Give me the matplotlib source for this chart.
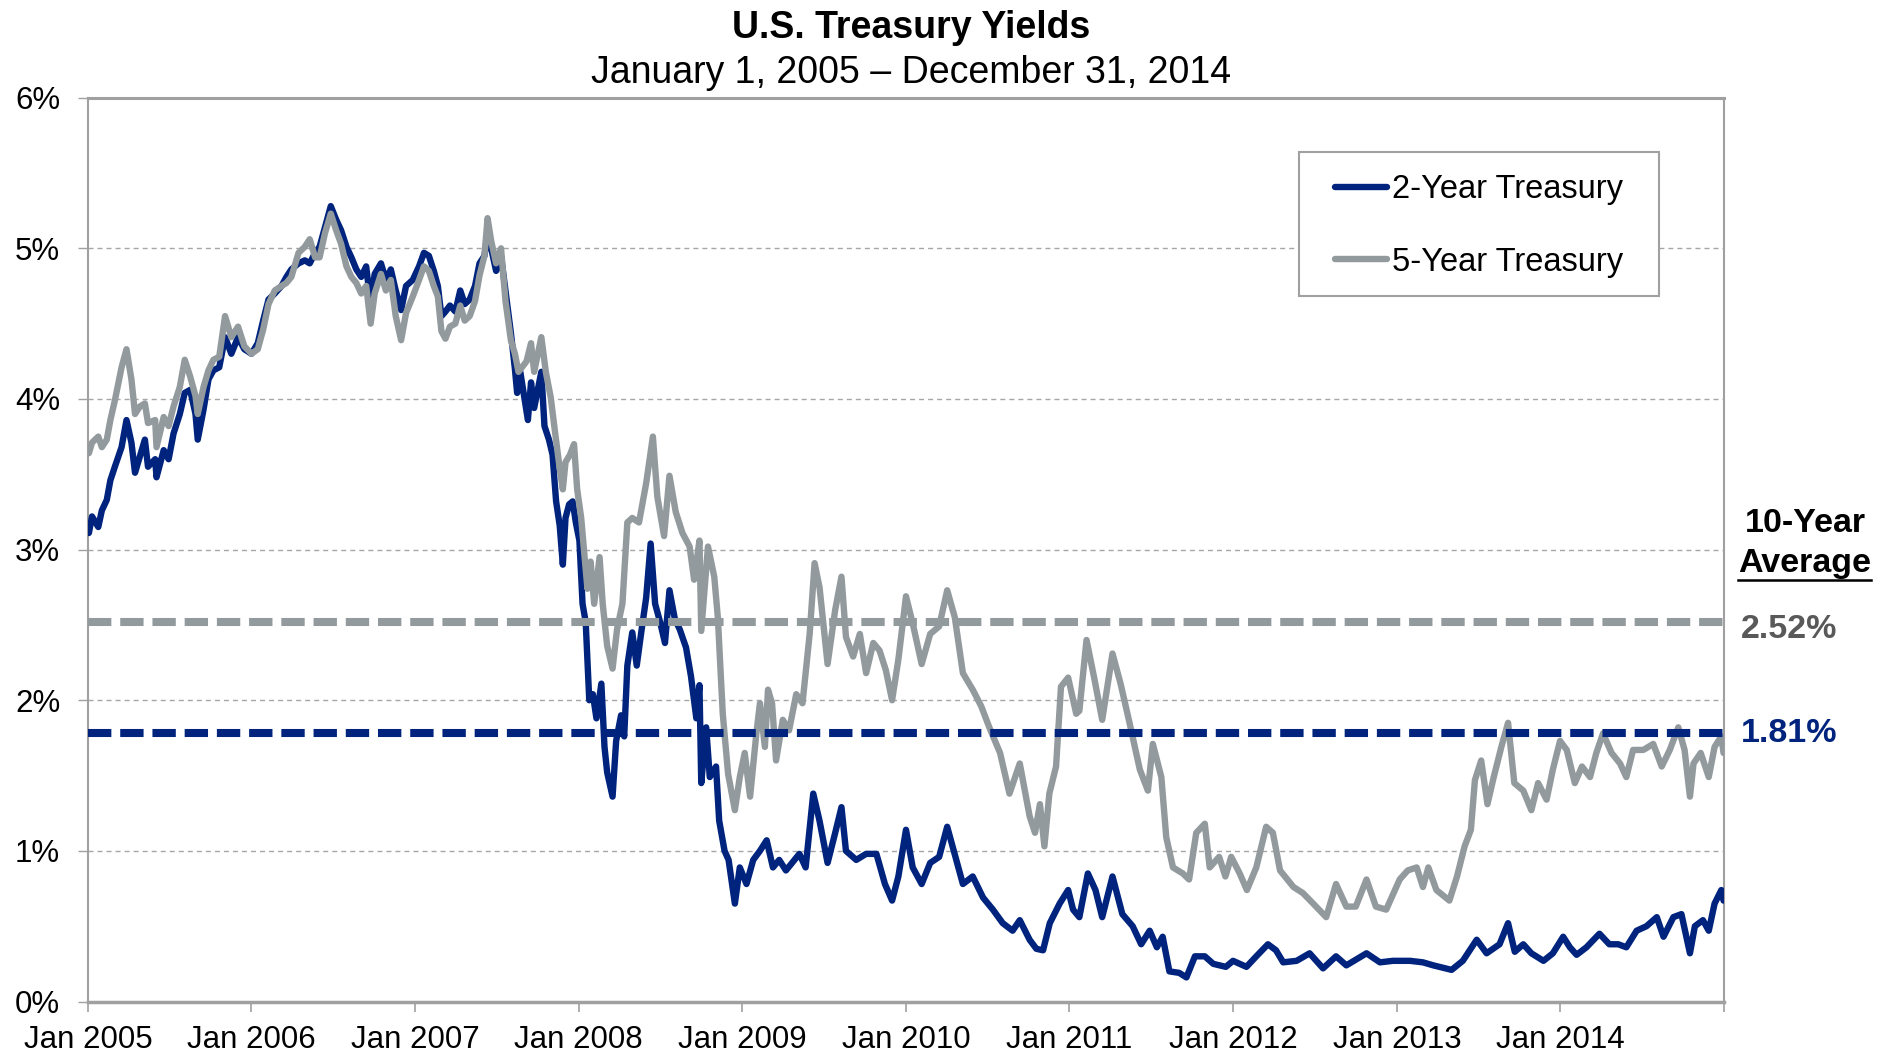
import numpy as np
import pandas as pd
import matplotlib
matplotlib.use('Agg')
import matplotlib.pyplot as plt
from matplotlib.patches import Rectangle
from matplotlib.lines import Line2D

plt.rcParams['font.family'] = ['Liberation Sans', 'DejaVu Sans']

# 2-year treasury yield (%)
two_year = [
    ("2005-01-03", 3.11), ("2005-01-10", 3.22), ("2005-01-24", 3.15), ("2005-02-01", 3.26),
    ("2005-02-12", 3.33), ("2005-02-20", 3.46), ("2005-03-02", 3.55), ("2005-03-17", 3.68),
    ("2005-03-28", 3.86), ("2005-04-08", 3.71), ("2005-04-16", 3.51), ("2005-04-27", 3.62),
    ("2005-05-08", 3.73), ("2005-05-15", 3.55), ("2005-05-31", 3.60), ("2005-06-03", 3.48),
    ("2005-06-19", 3.66), ("2005-06-30", 3.60), ("2005-07-11", 3.77), ("2005-07-25", 3.90),
    ("2005-08-05", 4.04), ("2005-08-17", 4.06), ("2005-08-29", 3.90), ("2005-09-03", 3.73),
    ("2005-09-16", 3.93), ("2005-09-27", 4.13), ("2005-10-08", 4.19), ("2005-10-21", 4.21),
    ("2005-11-03", 4.41), ("2005-11-17", 4.30), ("2005-12-02", 4.41), ("2005-12-16", 4.33),
    ("2006-01-01", 4.30), ("2006-01-15", 4.37), ("2006-01-27", 4.52), ("2006-02-08", 4.66),
    ("2006-02-22", 4.70), ("2006-03-09", 4.75), ("2006-03-20", 4.81), ("2006-03-31", 4.86),
    ("2006-04-16", 4.90), ("2006-04-30", 4.92), ("2006-05-11", 4.90), ("2006-05-23", 4.97),
    ("2006-06-02", 5.01), ("2006-06-14", 5.14), ("2006-06-27", 5.28), ("2006-07-09", 5.19),
    ("2006-07-20", 5.12), ("2006-08-01", 5.01), ("2006-08-12", 4.94), ("2006-08-23", 4.86),
    ("2006-09-03", 4.81), ("2006-09-14", 4.88), ("2006-09-24", 4.63), ("2006-10-03", 4.83),
    ("2006-10-17", 4.90), ("2006-10-28", 4.79), ("2006-11-08", 4.86), ("2006-11-19", 4.72),
    ("2006-12-01", 4.59), ("2006-12-12", 4.75), ("2006-12-27", 4.79), ("2007-01-10", 4.88),
    ("2007-01-21", 4.97), ("2007-02-01", 4.95), ("2007-02-12", 4.85), ("2007-02-21", 4.75),
    ("2007-03-01", 4.55), ("2007-03-10", 4.58), ("2007-03-20", 4.62), ("2007-04-01", 4.58),
    ("2007-04-12", 4.72), ("2007-04-22", 4.63), ("2007-05-03", 4.66), ("2007-05-15", 4.75),
    ("2007-05-25", 4.90), ("2007-06-05", 4.95), ("2007-06-12", 5.10), ("2007-06-20", 5.00),
    ("2007-07-01", 4.85), ("2007-07-12", 4.95), ("2007-07-22", 4.72), ("2007-08-03", 4.44),
    ("2007-08-12", 4.20), ("2007-08-17", 4.04), ("2007-08-24", 4.18), ("2007-09-10", 3.86),
    ("2007-09-17", 4.11), ("2007-09-24", 3.94), ("2007-10-10", 4.18), ("2007-10-17", 3.82),
    ("2007-10-27", 3.73), ("2007-11-04", 3.63), ("2007-11-12", 3.32), ("2007-11-20", 3.16),
    ("2007-11-27", 2.90), ("2007-12-03", 3.21), ("2007-12-11", 3.30), ("2007-12-19", 3.32),
    ("2007-12-26", 3.18), ("2008-01-03", 3.06), ("2008-01-10", 2.64), ("2008-01-17", 2.52),
    ("2008-01-25", 2.00), ("2008-02-02", 2.04), ("2008-02-10", 1.88), ("2008-02-21", 2.11),
    ("2008-02-28", 1.69), ("2008-03-05", 1.52), ("2008-03-17", 1.36), ("2008-03-25", 1.73),
    ("2008-04-05", 1.90), ("2008-04-12", 1.76), ("2008-04-19", 2.23), ("2008-04-30", 2.45),
    ("2008-05-10", 2.23), ("2008-05-20", 2.45), ("2008-05-31", 2.68), ("2008-06-10", 3.04),
    ("2008-06-20", 2.64), ("2008-07-01", 2.52), ("2008-07-12", 2.38), ("2008-07-22", 2.73),
    ("2008-08-03", 2.54), ("2008-08-14", 2.47), ("2008-08-28", 2.35), ("2008-09-08", 2.16),
    ("2008-09-20", 1.88), ("2008-09-27", 2.10), ("2008-10-01", 1.45), ("2008-10-12", 1.82),
    ("2008-10-20", 1.49), ("2008-11-03", 1.56), ("2008-11-10", 1.20), ("2008-11-22", 1.00),
    ("2008-12-01", 0.94), ("2008-12-15", 0.65), ("2008-12-26", 0.89), ("2009-01-10", 0.78),
    ("2009-01-25", 0.94), ("2009-02-09", 1.00), ("2009-02-24", 1.07), ("2009-03-10", 0.89),
    ("2009-03-24", 0.94), ("2009-04-08", 0.87), ("2009-05-08", 0.98), ("2009-05-22", 0.89),
    ("2009-06-08", 1.38), ("2009-06-22", 1.20), ("2009-07-10", 0.92), ("2009-07-27", 1.12),
    ("2009-08-10", 1.29), ("2009-08-20", 1.00), ("2009-09-12", 0.94), ("2009-10-04", 0.98),
    ("2009-10-27", 0.98), ("2009-11-15", 0.78), ("2009-12-01", 0.67), ("2009-12-15", 0.83),
    ("2010-01-01", 1.14), ("2010-01-16", 0.89), ("2010-02-05", 0.78), ("2010-02-24", 0.92),
    ("2010-03-16", 0.96), ("2010-04-03", 1.16), ("2010-04-15", 1.03), ("2010-05-08", 0.78),
    ("2010-05-30", 0.83), ("2010-06-22", 0.69), ("2010-07-14", 0.61), ("2010-08-05", 0.52),
    ("2010-08-27", 0.47), ("2010-09-12", 0.54), ("2010-10-04", 0.41), ("2010-10-19", 0.35),
    ("2010-11-03", 0.34), ("2010-11-18", 0.52), ("2010-12-10", 0.65), ("2010-12-29", 0.74),
    ("2011-01-09", 0.61), ("2011-01-23", 0.56), ("2011-02-11", 0.85), ("2011-02-28", 0.74),
    ("2011-03-15", 0.56), ("2011-04-07", 0.83), ("2011-04-29", 0.58), ("2011-05-22", 0.50),
    ("2011-06-10", 0.38), ("2011-06-29", 0.47), ("2011-07-15", 0.36), ("2011-07-28", 0.43),
    ("2011-08-12", 0.20), ("2011-09-03", 0.19), ("2011-09-19", 0.16), ("2011-10-08", 0.30),
    ("2011-10-30", 0.30), ("2011-11-18", 0.25), ("2011-12-16", 0.23), ("2012-01-01", 0.27),
    ("2012-01-31", 0.23), ("2012-02-22", 0.30), ("2012-03-19", 0.38), ("2012-04-06", 0.34),
    ("2012-04-22", 0.26), ("2012-05-22", 0.27), ("2012-06-20", 0.32), ("2012-07-20", 0.22),
    ("2012-08-18", 0.30), ("2012-09-10", 0.24), ("2012-10-25", 0.32), ("2012-11-24", 0.26),
    ("2012-12-23", 0.27), ("2013-01-30", 0.27), ("2013-02-28", 0.26), ("2013-03-23", 0.24),
    ("2013-05-03", 0.21), ("2013-05-28", 0.27), ("2013-06-28", 0.41), ("2013-07-20", 0.32),
    ("2013-08-18", 0.38), ("2013-09-06", 0.52), ("2013-09-21", 0.33), ("2013-10-10", 0.38),
    ("2013-10-28", 0.32), ("2013-11-24", 0.27), ("2013-12-15", 0.32), ("2014-01-07", 0.43),
    ("2014-01-22", 0.36), ("2014-02-06", 0.31), ("2014-02-28", 0.36), ("2014-03-29", 0.45),
    ("2014-04-20", 0.38), ("2014-05-10", 0.38), ("2014-05-28", 0.36), ("2014-06-20", 0.47),
    ("2014-07-12", 0.50), ("2014-08-04", 0.56), ("2014-08-19", 0.43), ("2014-09-10", 0.56),
    ("2014-09-28", 0.58), ("2014-10-17", 0.32), ("2014-10-28", 0.50), ("2014-11-15", 0.54),
    ("2014-11-28", 0.47), ("2014-12-11", 0.65), ("2014-12-26", 0.74), ("2014-12-31", 0.67),
]

# 5-year treasury yield (%)
five_year = [
    ("2005-01-03", 3.64), ("2005-01-10", 3.71), ("2005-01-24", 3.75), ("2005-02-01", 3.68),
    ("2005-02-12", 3.73), ("2005-02-20", 3.86), ("2005-03-02", 3.99), ("2005-03-17", 4.21),
    ("2005-03-28", 4.33), ("2005-04-08", 4.13), ("2005-04-16", 3.90), ("2005-04-27", 3.95),
    ("2005-05-08", 3.97), ("2005-05-15", 3.84), ("2005-05-31", 3.86), ("2005-06-03", 3.68),
    ("2005-06-19", 3.88), ("2005-06-30", 3.82), ("2005-07-11", 3.95), ("2005-07-25", 4.08),
    ("2005-08-05", 4.26), ("2005-08-17", 4.15), ("2005-08-29", 4.02), ("2005-09-03", 3.90),
    ("2005-09-16", 4.08), ("2005-09-27", 4.19), ("2005-10-08", 4.26), ("2005-10-21", 4.28),
    ("2005-11-03", 4.55), ("2005-11-17", 4.41), ("2005-12-02", 4.48), ("2005-12-16", 4.35),
    ("2006-01-01", 4.30), ("2006-01-15", 4.33), ("2006-01-27", 4.46), ("2006-02-08", 4.63),
    ("2006-02-22", 4.72), ("2006-03-09", 4.75), ("2006-03-20", 4.77), ("2006-03-31", 4.81),
    ("2006-04-16", 4.97), ("2006-04-30", 5.01), ("2006-05-11", 5.06), ("2006-05-23", 4.94),
    ("2006-06-02", 4.94), ("2006-06-14", 5.10), ("2006-06-27", 5.23), ("2006-07-09", 5.12),
    ("2006-07-20", 5.03), ("2006-08-01", 4.88), ("2006-08-12", 4.81), ("2006-08-23", 4.77),
    ("2006-09-03", 4.70), ("2006-09-14", 4.75), ("2006-09-24", 4.50), ("2006-10-03", 4.70),
    ("2006-10-17", 4.83), ("2006-10-28", 4.72), ("2006-11-08", 4.79), ("2006-11-19", 4.55),
    ("2006-12-01", 4.39), ("2006-12-12", 4.57), ("2006-12-27", 4.68), ("2007-01-10", 4.79),
    ("2007-01-21", 4.88), ("2007-02-01", 4.85), ("2007-02-12", 4.75), ("2007-02-21", 4.68),
    ("2007-03-01", 4.45), ("2007-03-10", 4.40), ("2007-03-20", 4.48), ("2007-04-01", 4.50),
    ("2007-04-12", 4.62), ("2007-04-22", 4.52), ("2007-05-03", 4.55), ("2007-05-15", 4.65),
    ("2007-05-25", 4.82), ("2007-06-05", 4.95), ("2007-06-12", 5.20), ("2007-06-20", 5.05),
    ("2007-07-01", 4.90), ("2007-07-12", 5.00), ("2007-07-22", 4.65), ("2007-08-03", 4.39),
    ("2007-08-12", 4.30), ("2007-08-20", 4.18), ("2007-09-07", 4.25), ("2007-09-17", 4.37),
    ("2007-09-24", 4.18), ("2007-10-10", 4.41), ("2007-10-20", 4.18), ("2007-10-31", 4.01),
    ("2007-11-10", 3.77), ("2007-11-20", 3.54), ("2007-11-27", 3.40), ("2007-12-03", 3.58),
    ("2007-12-13", 3.63), ("2007-12-22", 3.70), ("2007-12-29", 3.40), ("2008-01-07", 3.21),
    ("2008-01-14", 2.97), ("2008-01-21", 2.74), ("2008-01-28", 2.92), ("2008-02-05", 2.64),
    ("2008-02-17", 2.95), ("2008-02-24", 2.64), ("2008-03-05", 2.36), ("2008-03-17", 2.21),
    ("2008-03-27", 2.47), ("2008-04-08", 2.64), ("2008-04-19", 3.18), ("2008-04-30", 3.21),
    ("2008-05-15", 3.18), ("2008-05-31", 3.44), ("2008-06-15", 3.75), ("2008-06-25", 3.35),
    ("2008-07-10", 3.09), ("2008-07-22", 3.49), ("2008-08-05", 3.25), ("2008-08-20", 3.11),
    ("2008-09-05", 3.02), ("2008-09-15", 2.80), ("2008-09-27", 3.06), ("2008-10-01", 2.46),
    ("2008-10-16", 3.02), ("2008-10-30", 2.82), ("2008-11-07", 2.55), ("2008-11-18", 1.91),
    ("2008-11-30", 1.51), ("2008-12-15", 1.27), ("2008-12-26", 1.49), ("2009-01-06", 1.65),
    ("2009-01-18", 1.36), ("2009-02-01", 1.78), ("2009-02-09", 1.98), ("2009-02-20", 1.69),
    ("2009-02-27", 2.07), ("2009-03-08", 1.98), ("2009-03-17", 1.60), ("2009-04-01", 1.87),
    ("2009-04-15", 1.80), ("2009-05-01", 2.04), ("2009-05-15", 1.98), ("2009-05-31", 2.44),
    ("2009-06-11", 2.91), ("2009-06-22", 2.75), ("2009-07-10", 2.24), ("2009-07-27", 2.60),
    ("2009-08-10", 2.82), ("2009-08-20", 2.42), ("2009-09-05", 2.29), ("2009-09-20", 2.44),
    ("2009-10-04", 2.18), ("2009-10-20", 2.38), ("2009-11-03", 2.33), ("2009-11-17", 2.20),
    ("2009-12-01", 2.00), ("2009-12-15", 2.27), ("2010-01-01", 2.69), ("2010-01-16", 2.51),
    ("2010-02-05", 2.24), ("2010-02-24", 2.44), ("2010-03-16", 2.49), ("2010-04-03", 2.73),
    ("2010-04-20", 2.55), ("2010-05-08", 2.18), ("2010-05-30", 2.07), ("2010-06-18", 1.96),
    ("2010-07-06", 1.82), ("2010-07-30", 1.65), ("2010-08-20", 1.38), ("2010-09-12", 1.58),
    ("2010-10-04", 1.23), ("2010-10-16", 1.12), ("2010-10-27", 1.31), ("2010-11-06", 1.03),
    ("2010-11-17", 1.38), ("2010-12-02", 1.56), ("2010-12-13", 2.09), ("2010-12-29", 2.15),
    ("2011-01-16", 1.91), ("2011-01-23", 1.93), ("2011-02-08", 2.40), ("2011-02-25", 2.15),
    ("2011-03-15", 1.87), ("2011-04-07", 2.31), ("2011-04-25", 2.11), ("2011-05-15", 1.85),
    ("2011-06-07", 1.54), ("2011-06-25", 1.40), ("2011-07-06", 1.71), ("2011-07-25", 1.49),
    ("2011-08-05", 1.09), ("2011-08-20", 0.89), ("2011-09-11", 0.85), ("2011-09-25", 0.81),
    ("2011-10-11", 1.12), ("2011-10-30", 1.18), ("2011-11-10", 0.89), ("2011-12-01", 0.96),
    ("2011-12-15", 0.83), ("2011-12-28", 0.96), ("2012-01-16", 0.85), ("2012-02-01", 0.74),
    ("2012-02-22", 0.89), ("2012-03-15", 1.16), ("2012-03-30", 1.12), ("2012-04-15", 0.87),
    ("2012-05-15", 0.76), ("2012-06-05", 0.72), ("2012-06-28", 0.65), ("2012-07-27", 0.56),
    ("2012-08-18", 0.78), ("2012-09-10", 0.63), ("2012-10-01", 0.63), ("2012-10-25", 0.81),
    ("2012-11-15", 0.63), ("2012-12-08", 0.61), ("2013-01-07", 0.81), ("2013-01-25", 0.87),
    ("2013-02-14", 0.89), ("2013-02-28", 0.76), ("2013-03-12", 0.89), ("2013-03-30", 0.74),
    ("2013-04-28", 0.67), ("2013-05-15", 0.83), ("2013-06-01", 1.03), ("2013-06-15", 1.14),
    ("2013-06-24", 1.47), ("2013-07-08", 1.60), ("2013-07-22", 1.31), ("2013-08-05", 1.49),
    ("2013-08-22", 1.69), ("2013-09-06", 1.85), ("2013-09-20", 1.45), ("2013-10-10", 1.40),
    ("2013-10-28", 1.27), ("2013-11-12", 1.45), ("2013-12-01", 1.34), ("2013-12-15", 1.54),
    ("2013-12-31", 1.73), ("2014-01-15", 1.67), ("2014-02-02", 1.45), ("2014-02-18", 1.56),
    ("2014-03-08", 1.49), ("2014-03-22", 1.65), ("2014-04-06", 1.78), ("2014-04-25", 1.65),
    ("2014-05-14", 1.58), ("2014-05-28", 1.49), ("2014-06-12", 1.67), ("2014-07-05", 1.67),
    ("2014-07-27", 1.71), ("2014-08-15", 1.56), ("2014-09-02", 1.67), ("2014-09-21", 1.82),
    ("2014-10-05", 1.67), ("2014-10-17", 1.36), ("2014-10-25", 1.58), ("2014-11-10", 1.65),
    ("2014-11-28", 1.49), ("2014-12-11", 1.69), ("2014-12-26", 1.76), ("2014-12-31", 1.65),
]

# 10-year averages: level of the dashed lines and the printed labels
avg_5yr_level = 2.52
avg_2yr_level = 1.78
avg_5yr_label = "2.52%"
avg_2yr_label = "1.81%"

tick_dates = ["2005-01-01", "2006-01-01", "2007-01-01", "2008-01-01", "2009-01-01", "2010-01-01",
              "2011-01-01", "2012-01-01", "2013-01-01", "2014-01-01", "2015-01-01"]
tick_labels = ["Jan 2005", "Jan 2006", "Jan 2007", "Jan 2008", "Jan 2009", "Jan 2010",
               "Jan 2011", "Jan 2012", "Jan 2013", "Jan 2014", ""]
y_ticks = [0, 1, 2, 3, 4, 5, 6]
y_labels = ["0%", "1%", "2%", "3%", "4%", "5%", "6%"]

NAVY = "#00247D"
GRAY = "#939A9E"
AXIS_GRAY = "#A0A0A0"

d2 = pd.to_datetime([d for d, v in two_year])
v2 = [v for d, v in two_year]
d5 = pd.to_datetime([d for d, v in five_year])
v5 = [v for d, v in five_year]

fig = plt.figure(figsize=(18.92, 10.57), dpi=100)
ax = fig.add_axes([0.0465, 0.0525, 0.8647, 0.8551])

l2, = ax.plot(d2, v2, color=NAVY, lw=4.6, solid_joinstyle='round', solid_capstyle='round',
              label="2-Year Treasury", zorder=3)
l5, = ax.plot(d5, v5, color=GRAY, lw=4.6, solid_joinstyle='round', solid_capstyle='round',
              label="5-Year Treasury", zorder=3)

# dashed 10-year average lines
ax.axhline(avg_5yr_level, color=GRAY, lw=5.8, linestyle=(0, (2.9, 1.1)), zorder=4)
ax.axhline(avg_2yr_level, color=NAVY, lw=5.8, linestyle=(0, (2.9, 1.1)), zorder=4)

ax.set_xlim(pd.Timestamp("2005-01-01"), pd.Timestamp("2015-01-01"))
ax.set_ylim(0, 6)
ax.set_xticks(pd.to_datetime(tick_dates))
ax.set_xticklabels(tick_labels, fontsize=22.5)
ax.set_yticks(y_ticks)
ax.set_yticklabels(y_labels, fontsize=22.5)
ax.tick_params(axis='x', direction='out', length=7, width=1.2, color=AXIS_GRAY, pad=10)
ax.tick_params(axis='y', direction='out', length=7, width=1.0, color=AXIS_GRAY, pad=13)

ax.yaxis.grid(True, color='#A6A6A6', lw=1.0, linestyle=(0, (3.6, 2.9)))
ax.set_axisbelow(True)
for side in ['left', 'right']:
    ax.spines[side].set_color(AXIS_GRAY)
    ax.spines[side].set_linewidth(1.5)
ax.spines['top'].set_color(AXIS_GRAY)
ax.spines['top'].set_linewidth(2.2)
ax.spines['bottom'].set_color(AXIS_GRAY)
ax.spines['bottom'].set_linewidth(2.5)

# legend with a hand drawn frame
ax.legend(handles=[l2, l5], loc='center left', bbox_to_anchor=(0.7523, 0.8581), frameon=False,
          fontsize=23.5, handlelength=1.6, handletextpad=0.15, labelspacing=1.27, borderpad=0)
ax.add_patch(Rectangle((0.7402, 0.7806), 0.2200, 0.1593, transform=ax.transAxes, fill=True,
                       facecolor='white', edgecolor=AXIS_GRAY, lw=1.5, zorder=5))
ax.get_legend().set_zorder(6)

# titles
fig.text(0.4815, 0.9739, "U.S. Treasury Yields", ha='center', va='center', fontsize=27,
         fontweight='bold')
fig.text(0.4815, 0.9313, "January 1, 2005 \u2013 December 31, 2014", ha='center', va='center',
         fontsize=27)

# right-hand annotations
ytr = ax.get_yaxis_transform()
ax.text(1.0495, 3.175, "10-Year", transform=ytr, ha='center', va='center', fontsize=24.5,
        fontweight='bold', clip_on=False)
avg_txt = ax.text(1.0495, 2.905, "Average", transform=ytr, ha='center', va='center',
                  fontsize=24.5, fontweight='bold', clip_on=False)
ax.text(1.0104, avg_5yr_level - 0.05, avg_5yr_label, transform=ytr, ha='left', va='center',
        fontsize=24.5, fontweight='bold', color='#595959', clip_on=False)
ax.text(1.0104, avg_2yr_level, avg_2yr_label, transform=ytr, ha='left', va='center',
        fontsize=24.5, fontweight='bold', color=NAVY, clip_on=False)

fig.canvas.draw()
bb = avg_txt.get_window_extent().transformed(fig.transFigure.inverted())
fig.add_artist(Line2D([bb.x0, bb.x1], [bb.y0 - 0.001, bb.y0 - 0.001], color='black', lw=1.8,
                      transform=fig.transFigure))

fig.savefig("out.png", dpi=100)
